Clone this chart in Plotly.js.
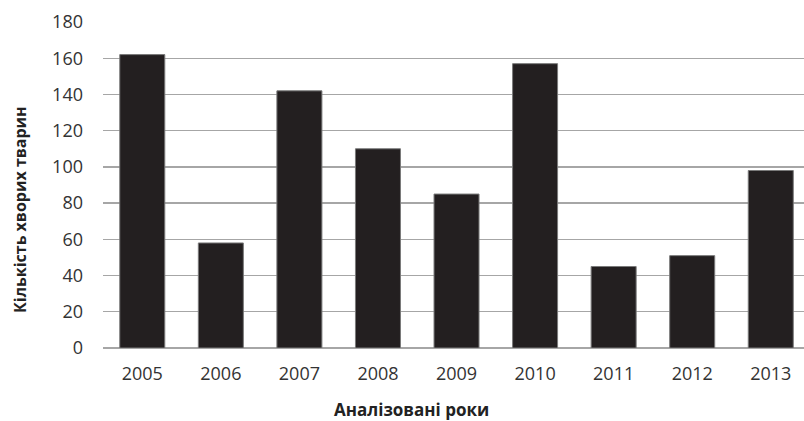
<!DOCTYPE html>
<html>
<head>
<meta charset="utf-8">
<script src="https://cdn.plot.ly/plotly-3.0.1.min.js"></script>
<style>html,body{margin:0;padding:0;background:#fff;}#chart{width:804px;height:421px;}</style>
</head>
<body>
<div id="chart"></div>
<script>
const years = ['2005','2006','2007','2008','2009','2010','2011','2012','2013'];
const counts = [162, 58, 142, 110, 85, 157, 45, 51, 98];
const yTicks = [0, 20, 40, 60, 80, 100, 120, 140, 160, 180];
const xTitle = 'Аналізовані роки';
const yTitle = 'Кількість хворих тварин';

const trace = {
  type: 'bar',
  x: years,
  y: counts,
  marker: {color: '#231f20', line: {color: '#7a7a7a', width: 1}},
  hoverinfo: 'x+y'
};

const layout = {
  width: 804, height: 421,
  margin: {l: 103, r: 0, t: 22, b: 73},
  paper_bgcolor: '#fff', plot_bgcolor: '#fff',
  bargap: 0.427,
  showlegend: false,
  font: {family: '"Open Sans", sans-serif', color: '#333'},
  xaxis: {
    type: 'category',
    range: [-0.5, 8.423],
    showgrid: false, zeroline: false, showline: false, ticks: '',
    tickfont: {size: 18, color: '#333'},
    ticklabelstandoff: 13
  },
  yaxis: {
    range: [0, 180],
    tickvals: yTicks,
    showgrid: true, gridcolor: '#a6a6a6', gridwidth: 1.3,
    zeroline: true, zerolinecolor: '#a6a6a6', zerolinewidth: 1.5,
    showline: false, ticks: '',
    tickfont: {size: 18, color: '#333'},
    ticklabelstandoff: 19
  },
  annotations: [
    {text: '<b>' + xTitle + '</b>', xref: 'paper', yref: 'paper', x: (411 - 103) / 701, y: -0.19,
     xanchor: 'center', yanchor: 'middle', showarrow: false, font: {size: 17, color: '#222'}},
    {text: '<b>' + yTitle + '</b>', xref: 'paper', yref: 'paper', x: (20 - 103) / 701, y: (348 - 210) / 326,
     xanchor: 'center', yanchor: 'middle', textangle: -90, showarrow: false, font: {size: 16, color: '#222'}}
  ]
};

Plotly.newPlot('chart', [trace], layout, {displayModeBar: false, staticPlot: true});
</script>
</body>
</html>
